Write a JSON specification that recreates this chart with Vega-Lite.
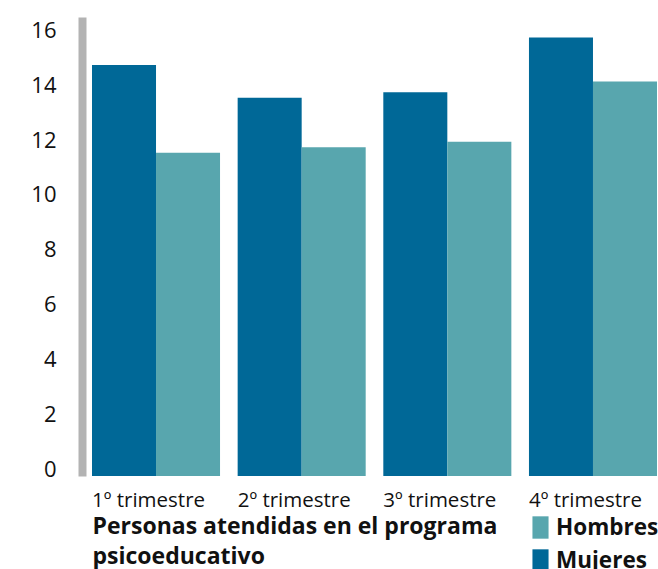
{
  "$schema": "https://vega.github.io/schema/vega-lite/v6.json",
  "autosize": "none",
  "width": 572,
  "height": 459,
  "padding": {"left": 86, "top": 17, "right": 0, "bottom": 93},
  "config": {
    "view": {"stroke": null},
    "font": "Open Sans",
    "axis": {"grid": false}
  },
  "data": {
    "values": [
      {"trimestre": "1º trimestre", "sexo": "Mujeres", "valor": 15.0},
      {"trimestre": "1º trimestre", "sexo": "Hombres", "valor": 11.8},
      {"trimestre": "2º trimestre", "sexo": "Mujeres", "valor": 13.8},
      {"trimestre": "2º trimestre", "sexo": "Hombres", "valor": 12.0},
      {"trimestre": "3º trimestre", "sexo": "Mujeres", "valor": 14.0},
      {"trimestre": "3º trimestre", "sexo": "Hombres", "valor": 12.2},
      {"trimestre": "4º trimestre", "sexo": "Mujeres", "valor": 16.0},
      {"trimestre": "4º trimestre", "sexo": "Hombres", "valor": 14.4}
    ]
  },
  "mark": {"type": "bar"},
  "encoding": {
    "x": {
      "field": "trimestre",
      "type": "nominal",
      "sort": null,
      "scale": {"range": [6, 571], "paddingInner": 0.121, "paddingOuter": 0},
      "axis": {
        "title": ["Personas atendidas en el programa", "psicoeducativo"],
        "titleFontSize": 23,
        "titleFontWeight": "bold",
        "titleColor": "#111111",
        "titleAnchor": "start",
        "titleAlign": "left",
        "titleBaseline": "alphabetic",
        "titleLineHeight": 30,
        "titleX": 6,
        "titleY": 57,
        "domain": false,
        "ticks": false,
        "tickSize": 0,
        "labelAngle": 0,
        "labelAlign": "left",
        "labelBaseline": "alphabetic",
        "labelOffset": -64,
        "labelPadding": 30,
        "labelFontSize": 20.5,
        "labelColor": "#111111"
      }
    },
    "xOffset": {"field": "sexo", "type": "nominal", "sort": ["Mujeres", "Hombres"], "scale": {"paddingInner": 0, "paddingOuter": 0}},
    "y": {
      "field": "valor",
      "type": "quantitative",
      "scale": {"domain": [0, 16.75], "nice": false},
      "axis": {
        "title": null,
        "values": [0, 2, 4, 6, 8, 10, 12, 14, 16],
        "domainColor": "#b3b3b3",
        "domainWidth": 8,
        "offset": 4,
        "ticks": false,
        "tickSize": 0,
        "labelPadding": 26,
        "labelBaseline": "alphabetic",
        "labelFontSize": 22,
        "labelColor": "#111111"
      }
    },
    "color": {
      "field": "sexo",
      "type": "nominal",
      "scale": {"domain": ["Hombres", "Mujeres"], "range": ["#58a6ae", "#006897"]},
      "legend": {
        "title": null,
        "orient": "none",
        "legendX": 443,
        "legendY": 499,
        "symbolType": "M-0.72,-1H0.72V1H-0.72Z",
        "symbolSize": 500,
        "symbolStrokeWidth": 0,
        "labelFontSize": 22.5,
        "labelFontWeight": "bold",
        "labelColor": "#111111",
        "rowPadding": 10,
        "labelOffset": 4
      }
    }
  }
}
